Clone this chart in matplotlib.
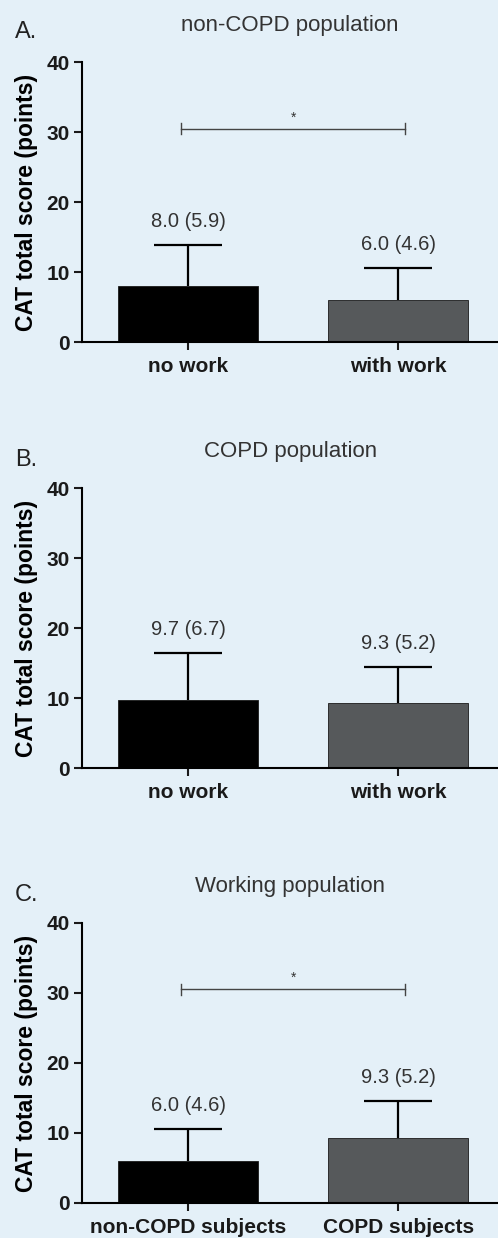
import matplotlib
matplotlib.use('Agg')
import matplotlib.pyplot as plt
import numpy as np

plt.rcParams['font.family'] = ['Liberation Sans', 'DejaVu Sans']

# data: mean (SD) of CAT total score
panel_letters = ['A.', 'B.', 'C.']
panel_titles = ['non-COPD population', 'COPD population', 'Working population']

cats_a = ['no work', 'with work']
means_a = [8.0, 6.0]
sd_a = [5.9, 4.6]

cats_b = ['no work', 'with work']
means_b = [9.7, 9.3]
sd_b = [6.7, 5.2]

cats_c = ['non-COPD subjects', 'COPD subjects']
means_c = [6.0, 9.3]
sd_c = [4.6, 5.2]

significant = [True, False, True]
sig_level = 30.5

bar_colors = ['#000000', '#56595b']
bg = '#e4f0f8'

fig = plt.figure(figsize=(4.98, 12.38), dpi=100, facecolor=bg)

bottoms = [0.7237, 0.3796, 0.0283]
letter_y = [1 - 32/1238, 1 - 460/1238, 1 - 895/1238]
panels = [(cats_a, means_a, sd_a), (cats_b, means_b, sd_b), (cats_c, means_c, sd_c)]

for i, (cats, means, sds) in enumerate(panels):
    ax = fig.add_axes([0.165, bottoms[i], 0.835, 0.2262])
    ax.set_facecolor(bg)
    x = np.arange(len(cats))
    ax.bar(x, means, width=0.67, color=bar_colors, edgecolor='#1a1a1a', linewidth=0.6, zorder=2)
    eb = ax.errorbar(x, means, yerr=[np.zeros(len(sds)), sds], fmt='none', ecolor='black',
                     elinewidth=1.6, capsize=24.5, capthick=1.6, zorder=3)
    eb[1][0].set_visible(False)  # only the upper cap
    for xi, m, s in zip(x, means, sds):
        ax.text(xi, m + s + 2.0, '%.1f (%.1f)' % (m, s), ha='center', va='bottom',
                fontsize=14.5, color='#333333')

    if significant[i]:
        x0, x1 = x[0] - 0.033, x[1] + 0.033
        ax.plot([x0, x1], [sig_level, sig_level], color='#444444', lw=1.0)
        ax.plot([x0, x0], [sig_level - 0.8, sig_level + 0.8], color='#444444', lw=1.0)
        ax.plot([x1, x1], [sig_level - 0.8, sig_level + 0.8], color='#444444', lw=1.0)
        ax.text((x0 + x1) / 2, sig_level + 0.6, '*', ha='center', va='bottom',
                fontsize=10, color='#333333')

    ax.set_xlim(-0.505, 1.476)
    ax.set_ylim(0, 40)
    ax.set_yticks([0, 10, 20, 30, 40])
    ax.set_xticks(x)
    ax.set_xticklabels(cats, fontweight='bold', fontsize=15)
    for lab in ax.get_yticklabels():
        lab.set_fontweight('bold')
        lab.set_fontsize(15)
    ax.tick_params(axis='y', length=6, width=1.5, pad=3, colors='#1a1a1a')
    ax.tick_params(axis='x', length=6, width=1.5, pad=5, colors='#1a1a1a')
    ax.spines['top'].set_visible(False)
    ax.spines['right'].set_visible(False)
    ax.spines['left'].set_linewidth(1.5)
    ax.spines['bottom'].set_linewidth(1.5)
    ax.set_ylabel('CAT total score (points)', fontweight='bold', fontsize=16.5, labelpad=6)
    ax.set_title(panel_titles[i], fontsize=16, color='#333333', pad=22)
    fig.text(0.03, letter_y[i], panel_letters[i], fontsize=17, color='#222222', va='center')

fig.savefig('out.png', dpi=100, facecolor=bg)
